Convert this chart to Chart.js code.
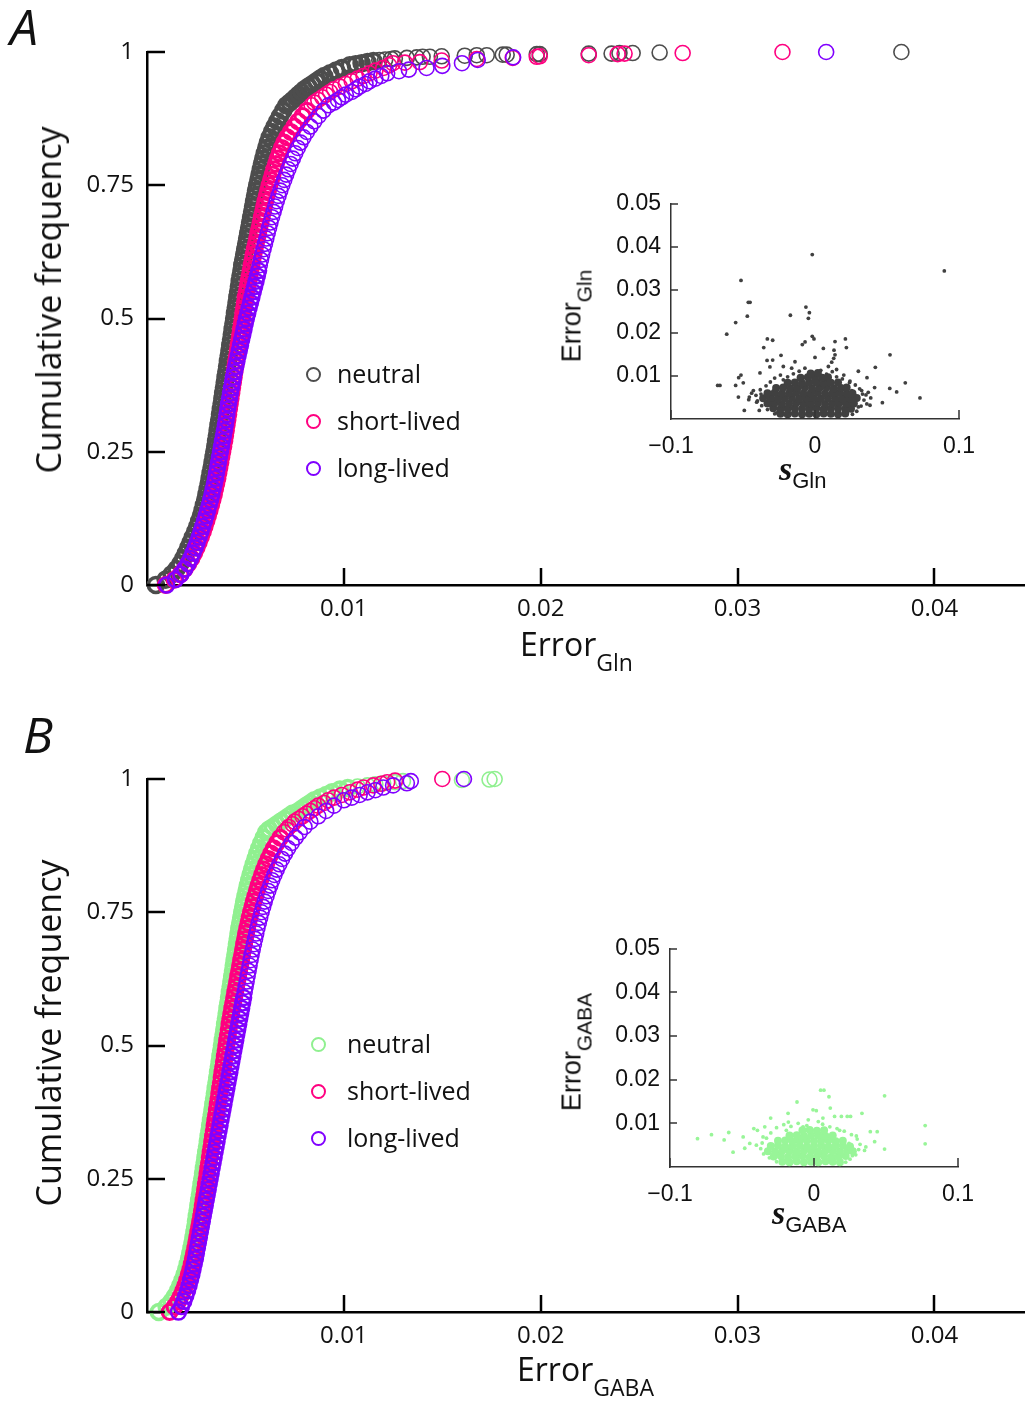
<!DOCTYPE html>
<html lang="en">
<head>
<meta charset="UTF-8">
<title>Cumulative error distributions</title>
<script src="https://cdn.jsdelivr.net/npm/chart.js"></script>
<style>
    html, body { margin: 0; padding: 0; background: #fff; overflow: hidden; }
    #wrap { position: relative; width: 1025px; height: 1402px; overflow: hidden; }
    canvas { position: absolute; }
    .t { position: absolute; white-space: nowrap; line-height: 1; color: #111; font-family: "Open Sans", sans-serif; }
    .rot { transform: translate(-50%, -50%) rotate(-90deg); }
    .sans { font-family: "Liberation Sans", Arial, sans-serif; }
    .sym { font-family: "Liberation Serif", serif; font-style: italic; font-weight: bold; }
    .lg { position: absolute; font-family: "Open Sans", sans-serif; font-size: 25px; line-height: 1; color: #111; white-space: nowrap; }
    .lg i { position: absolute; width: 11px; height: 11px; border: 2px solid; border-radius: 50%; }
</style>
</head>
<body>
<div id="wrap">
    <canvas id="mainA" width="1025" height="675" style="left:0;top:0"></canvas>
    <canvas id="insetA" width="430" height="300" style="left:550px;top:180px"></canvas>
    <canvas id="mainB" width="1025" height="675" style="left:0;top:727px"></canvas>
    <canvas id="insetB" width="430" height="300" style="left:550px;top:925px"></canvas>

    <div class="t" style="left:10px;top:1px;font-size:50px;font-style:italic">A</div>
    <div class="t rot" style="left:48px;top:300px;font-size:34px">Cumulative frequency</div>
    <div class="t" style="left:520px;top:628px;font-size:32px">Error<span style="font-size:23px;position:relative;top:15px">Gln</span></div>
    <div class="t sans rot" style="left:572px;top:316px;font-size:27px">Error<span style="font-size:21px;position:relative;top:11px">Gln</span></div>
    <div class="t" style="left:779px;top:452px"><span class="sym" style="font-size:34px">s</span><span class="sans" style="font-size:22px;position:relative;top:8px">Gln</span></div>

    <div class="t" style="left:23px;top:709px;font-size:50px;font-style:italic">B</div>
    <div class="t rot" style="left:48px;top:1033px;font-size:34px">Cumulative frequency</div>
    <div class="t" style="left:517px;top:1353px;font-size:32px">Error<span style="font-size:23px;position:relative;top:15px">GABA</span></div>
    <div class="t sans rot" style="left:572px;top:1052px;font-size:27px">Error<span style="font-size:21px;position:relative;top:11px">GABA</span></div>
    <div class="t" style="left:772px;top:1196px"><span class="sym" style="font-size:34px">s</span><span class="sans" style="font-size:22px;position:relative;top:8px">GABA</span></div>

    <div id="legA"></div>
    <div id="legB"></div>
</div>

<script>
const cumLevels = [
    0, 0.01, 0.02, 0.03, 0.04, 0.05, 0.06, 0.07, 0.08, 0.09,
    0.10, 0.11, 0.12, 0.13, 0.14, 0.15, 0.16, 0.17, 0.18, 0.19,
    0.20, 0.21, 0.22, 0.23, 0.24, 0.25, 0.26, 0.27, 0.28, 0.29,
    0.30, 0.31, 0.32, 0.33, 0.34, 0.35, 0.36, 0.37, 0.38, 0.39,
    0.40, 0.41, 0.42, 0.43, 0.44, 0.45, 0.46, 0.47, 0.48, 0.49,
    0.50, 0.51, 0.52, 0.53, 0.54, 0.55, 0.56, 0.57, 0.58, 0.59,
    0.60, 0.61, 0.62, 0.63, 0.64, 0.65, 0.66, 0.67, 0.68, 0.69,
    0.70, 0.71, 0.72, 0.73, 0.74, 0.75, 0.76, 0.77, 0.78, 0.79,
    0.80, 0.81, 0.82, 0.83, 0.84, 0.85, 0.86, 0.87, 0.88, 0.89, 0.90
];

// panel A, Error_Gln at each level
const glnNeutral = [
    .00045,.00095,.00125,.00150,.00170,.00185,.00198,.00210,.00222,.00233,
    .00245,.00256,.00265,.00274,.00282,.00289,.00296,.00302,.00308,.00313,
    .00318,.00323,.00328,.00333,.00338,.00342,.00347,.00351,.00355,.00359,
    .00363,.00367,.00371,.00375,.00379,.00383,.00387,.00391,.00395,.00399,
    .00403,.00407,.00411,.00415,.00419,.00423,.00427,.00431,.00435,.00439,
    .00443,.00447,.00451,.00455,.00459,.00463,.00467,.00471,.00475,.00480,
    .00484,.00489,.00494,.00499,.00504,.00509,.00514,.00519,.00524,.00529,
    .00534,.00539,.00544,.00549,.00554,.00560,.00566,.00572,.00578,.00584,
    .00591,.00598,.00606,.00614,.00623,.00635,.00648,.00662,.00676,.00692,.00708
];
const glnShort = [
    .00095,.00140,.00170,.00192,.00210,.00226,.00240,.00252,.00263,.00274,
    .00284,.00293,.00302,.00310,.00318,.00326,.00333,.00340,.00346,.00352,
    .00358,.00363,.00368,.00373,.00378,.00383,.00388,.00393,.00397,.00401,
    .00405,.00409,.00413,.00417,.00421,.00425,.00429,.00433,.00437,.00441,
    .00445,.00449,.00453,.00457,.00461,.00465,.00469,.00473,.00477,.00481,
    .00485,.00489,.00493,.00497,.00501,.00506,.00511,.00516,.00521,.00526,
    .00531,.00536,.00541,.00547,.00553,.00559,.00565,.00571,.00577,.00583,
    .00589,.00595,.00601,.00608,.00615,.00622,.00630,.00638,.00646,.00655,
    .00664,.00674,.00685,.00697,.00712,.00730,.00748,.00768,.00790,.00812,.00836
];
const glnLong = [
    .00100,.00145,.00172,.00192,.00208,.00222,.00234,.00245,.00255,.00265,
    .00274,.00283,.00292,.00300,.00308,.00316,.00323,.00330,.00336,.00342,
    .00348,.00353,.00358,.00363,.00368,.00373,.00378,.00383,.00388,.00393,
    .00398,.00402,.00406,.00410,.00414,.00419,.00424,.00429,.00434,.00439,
    .00445,.00451,.00457,.00463,.00469,.00475,.00481,.00487,.00493,.00499,
    .00505,.00512,.00519,.00526,.00533,.00540,.00547,.00554,.00561,.00567,
    .00573,.00579,.00585,.00592,.00599,.00606,.00613,.00620,.00627,.00635,
    .00643,.00651,.00659,.00668,.00677,.00687,.00697,.00707,.00718,.00729,
    .00741,.00753,.00766,.00780,.00795,.00812,.00830,.00850,.00872,.00896,.00922
];
// knee and tail of each curve: [Error, cumulative frequency]
const glnNeutralTop = [
    [.00725,.905],[.0074,.91],[.00755,.915],[.0077,.92],[.00785,.925],[.0080,.93],[.0082,.935],
    [.0084,.94],[.0086,.945],[.0088,.95],[.0090,.955],[.0093,.96],[.0096,.965],[.0099,.97],
    [.0103,.975],[.0106,.977],[.0109,.979],[.0112,.981],[.0115,.983],[.0118,.985],[.0121,.986],
    [.0124,.987],[.01259,.988],[.0132,.989],[.0137,.990],[.0140,.991],[.01437,.991],[.01497,.992],
    [.01614,.993],[.01675,.994],[.01726,.994],[.01807,.995],[.01827,.995],[.0198,.996],[.01995,.996],
    [.02244,.997],[.0236,.997],[.0240,.998],[.02467,.998],[.02604,.999],[.03832,1]
];
const glnShortTop = [
    [.0085,.905],[.0087,.91],[.0089,.915],[.0091,.92],[.0093,.925],[.0095,.93],[.0098,.935],
    [.0101,.94],[.0104,.945],[.0107,.95],[.0110,.955],[.0113,.96],[.0116,.965],[.0120,.97],
    [.0123,.975],[.01249,.979],[.0131,.980],[.01386,.981],[.01497,.984],[.01675,.987],[.01858,.989],
    [.0198,.991],[.01995,.992],[.02244,.994],[.02391,.996],[.02426,.997],[.02721,.998],[.03228,1]
];
const glnLongTop = [
    [.0095,.905],[.0097,.91],[.0099,.915],[.0101,.92],[.0104,.925],[.0106,.93],[.0108,.935],
    [.0111,.94],[.0113,.945],[.0116,.95],[.0119,.955],[.0122,.96],[.0128,.964],[.0133,.967],
    [.0142,.970],[.0150,.974],[.0160,.979],[.0168,.985],[.0186,.990],[.0345,1]
];

// panel B, Error_GABA at each level
const gabaNeutral = [
    .00060,.00100,.00125,.00143,.00158,.00170,.00181,.00191,.00200,.00207,
    .00214,.00220,.00226,.00231,.00236,.00241,.00245,.00249,.00253,.00257,
    .00261,.00265,.00269,.00273,.00277,.00281,.00285,.00289,.00293,.00297,
    .00301,.00305,.00309,.00313,.00317,.00321,.00325,.00329,.00333,.00337,
    .00341,.00345,.00349,.00353,.00357,.00361,.00365,.00369,.00373,.00377,
    .00381,.00385,.00389,.00393,.00397,.00401,.00405,.00409,.00413,.00417,
    .00421,.00425,.00429,.00433,.00437,.00441,.00445,.00449,.00453,.00457,
    .00461,.00465,.00469,.00474,.00479,.00484,.00489,.00494,.00500,.00506,
    .00512,.00519,.00526,.00534,.00542,.00551,.00560,.00570,.00581,.00593,.00606
];
const gabaShort = [
    .00115,.00140,.00158,.00172,.00184,.00195,.00204,.00212,.00220,.00227,
    .00233,.00239,.00245,.00250,.00255,.00260,.00265,.00270,.00275,.00279,
    .00283,.00287,.00291,.00295,.00299,.00303,.00307,.00311,.00315,.00319,
    .00323,.00327,.00331,.00335,.00339,.00343,.00347,.00351,.00355,.00359,
    .00363,.00367,.00371,.00375,.00379,.00383,.00387,.00391,.00395,.00399,
    .00403,.00407,.00411,.00415,.00419,.00423,.00428,.00433,.00438,.00443,
    .00448,.00453,.00458,.00463,.00468,.00473,.00478,.00483,.00488,.00493,
    .00498,.00503,.00509,.00515,.00521,.00528,.00535,.00542,.00550,.00558,
    .00566,.00575,.00584,.00594,.00605,.00617,.00630,.00644,.00660,.00677,.00695
];
const gabaLong = [
    .00160,.00175,.00187,.00197,.00206,.00214,.00221,.00228,.00234,.00240,
    .00246,.00251,.00256,.00261,.00266,.00271,.00276,.00281,.00286,.00291,
    .00296,.00301,.00306,.00311,.00316,.00321,.00326,.00331,.00336,.00341,
    .00346,.00351,.00356,.00361,.00366,.00371,.00376,.00381,.00386,.00391,
    .00396,.00401,.00406,.00411,.00416,.00421,.00426,.00431,.00436,.00441,
    .00446,.00451,.00456,.00461,.00466,.00471,.00476,.00481,.00486,.00491,
    .00496,.00501,.00506,.00511,.00516,.00521,.00526,.00531,.00537,.00543,
    .00549,.00555,.00561,.00568,.00575,.00582,.00590,.00598,.00607,.00616,
    .00626,.00636,.00647,.00659,.00672,.00686,.00701,.00717,.00735,.00755,.00776
];
const gabaNeutralTop = [
    [.0062,.905],[.0064,.91],[.0066,.915],[.0068,.92],[.0070,.925],[.0072,.93],[.0074,.935],
    [.0077,.94],[.0079,.945],[.0081,.95],[.0083,.955],[.0085,.96],[.0088,.965],[.0091,.97],
    [.0094,.975],[.0098,.98],[.0102,.983],[.0107,.986],[.0112,.988],[.0116,.990],[.0120,.992],
    [.0126,.994],[.0130,.996],[.0160,.998],[.0174,.999],[.01766,1]
];
const gabaShortTop = [
    [.0071,.905],[.0072,.91],[.0074,.915],[.0075,.92],[.0077,.925],[.0079,.93],[.0081,.935],
    [.0083,.94],[.0085,.945],[.0087,.95],[.0090,.955],[.0092,.96],[.0095,.965],[.0099,.97],
    [.0103,.975],[.0107,.98],[.0110,.984],[.0115,.988],[.0119,.991],[.0122,.994],[.0126,.997],[.0150,1]
];
const gabaLongTop = [
    [.0080,.91],[.0083,.92],[.0087,.93],[.0091,.94],[.0095,.95],[.0100,.96],[.0104,.965],
    [.0108,.97],[.0112,.975],[.0116,.979],[.0120,.984],[.0125,.988],[.0132,.992],[.0134,.996],[.0161,1]
];

// insets: [s, Error] pairs; "core" is the dense middle of each cloud
const glnCore = [
    [-.024,.0012],[-.019,.0011],[-.014,.0013],[-.009,.0011],[-.004,.0012],[.001,.0011],[.006,.0013],[.011,.0012],[.016,.0011],[.021,.0013],
    [-.029,.0025],[-.024,.0023],[-.019,.0024],[-.014,.0025],[-.009,.0023],[-.004,.0024],[.001,.0025],[.006,.0023],[.011,.0024],[.016,.0025],[.021,.0023],[.025,.0024],
    [-.033,.0036],[-.028,.0037],[-.023,.0035],[-.018,.0036],[-.013,.0037],[-.008,.0035],[-.003,.0036],[.002,.0037],[.007,.0035],[.012,.0036],[.017,.0037],[.022,.0035],[.027,.0036],
    [-.036,.0048],[-.031,.0049],[-.026,.0047],[-.021,.0048],[-.016,.0049],[-.011,.0047],[-.006,.0048],[-.001,.0049],[.004,.0047],[.009,.0048],[.014,.0049],[.019,.0047],[.024,.0048],[.029,.0049],
    [-.033,.0060],[-.028,.0061],[-.023,.0059],[-.018,.0060],[-.013,.0061],[-.008,.0059],[-.003,.0060],[.002,.0061],[.007,.0059],[.012,.0060],[.017,.0061],[.022,.0059],[.026,.0060],
    [-.027,.0072],[-.022,.0073],[-.017,.0071],[-.012,.0072],[-.007,.0073],[-.002,.0071],[.003,.0072],[.008,.0073],[.013,.0071],[.018,.0072],[.022,.0073],
    [-.019,.0084],[-.014,.0085],[-.009,.0083],[-.004,.0084],[.001,.0085],[.006,.0083],[.011,.0084],[.016,.0085],
    [-.010,.0096],[-.005,.0097],[0,.0095],[.005,.0096],[.009,.0097],
    [-.003,.0106],[.002,.0107]
];
const glnSpread = [
    [-.0019,.0382],[.0898,.0344],[-.0514,.0322],[-.0463,.0271],[-.0451,.0271],[-.0470,.0239],[-.0551,.0224],
    [-.0613,.0197],[-.0063,.0260],[-.0039,.0247],[-.0046,.0234],[-.0171,.0241],[-.0019,.0192],[-.0007,.0186],
    [-.0331,.0186],[-.0294,.0183],[-.0356,.0166],[-.0088,.0173],[-.0069,.0179],[.0139,.0180],[.0211,.0186],
    [.0218,.0166],[.0058,.0164],[.0132,.0160],[.0139,.0149],[.0130,.0141],[-.0236,.0148],[-.0294,.0137],
    [-.0333,.0136],[0,.0143],[.0521,.0149],[.0419,.0120],[.0301,.0111],[.0361,.0096],[.0627,.0084],
    [.0519,.0071],[.0729,.0049],[.0567,.0063],[.0468,.0038],[.0382,.0032],[.0414,.0073],[-.0676,.0078],
    [-.0660,.0078],[-.0551,.0078],[-.0514,.0102],[-.0530,.0096],[-.0498,.0084],[-.0532,.0051],[-.0491,.0020],
    [-.0456,.0051],[-.0382,.0107],[-.0313,.0121],[-.0220,.0122],[-.0139,.0133],[-.0162,.0118],[-.0375,.0058],
    [-.0428,.0066],[-.0405,.0039],[-.0387,.0020],[-.0266,.0014],[.0150,.0115],[.0093,.0122],[.0116,.0132],
    [.0243,.0088],[.0324,.0066],[.0255,.0066],[.0301,.0028],[.0243,.0035],[.0354,.0056],[.0387,.0049],
    [-.028,.0095],[-.024,.0102],[-.019,.0098],[-.015,.0105],[-.011,.0111],[-.007,.0118],[.004,.0113],
    [.008,.0104],[.012,.0110],[.015,.0098],[.019,.0093],[.024,.0085],[.028,.0079],[.031,.0070],
    [.033,.0058],[.034,.0044],[.032,.0030],[.029,.0018],[.026,.0011],[-.028,.0012],[-.033,.0022],
    [-.037,.0031],[-.040,.0042],[-.041,.0055],[-.038,.0068],[-.034,.0077],[-.031,.0086],[-.022,.0091],
    [.020,.0102],[-.044,.0060],[-.046,.0045],[.037,.0062],[.036,.0035]
];
const gabaCore = [
    [-.022,.0012],[-.017,.0011],[-.012,.0013],[-.007,.0011],[-.002,.0012],[.003,.0011],[.008,.0013],[.013,.0012],[.018,.0011],
    [-.028,.0024],[-.023,.0025],[-.018,.0023],[-.013,.0024],[-.008,.0025],[-.003,.0023],[.002,.0024],[.007,.0025],[.012,.0023],[.017,.0024],[.022,.0025],
    [-.032,.0036],[-.027,.0035],[-.022,.0037],[-.017,.0036],[-.012,.0035],[-.007,.0037],[-.002,.0036],[.003,.0035],[.008,.0037],[.013,.0036],[.018,.0035],[.023,.0037],[.027,.0036],
    [-.030,.0048],[-.025,.0049],[-.020,.0047],[-.015,.0048],[-.010,.0049],[-.005,.0047],[0,.0048],[.005,.0049],[.010,.0047],[.015,.0048],[.020,.0049],[.025,.0047],
    [-.025,.0060],[-.020,.0061],[-.015,.0059],[-.010,.0060],[-.005,.0061],[0,.0059],[.005,.0060],[.010,.0061],[.015,.0059],[.020,.0060],
    [-.017,.0072],[-.012,.0073],[-.007,.0071],[-.002,.0072],[.003,.0073],[.008,.0071],[.013,.0072],
    [-.008,.0084],[-.003,.0085],[.002,.0083],[.007,.0084]
];
const gabaSpread = [
    [-.0809,.0065],[-.0712,.0074],[-.0592,.0079],[-.0624,.0062],[-.0492,.0069],[-.0562,.0034],[-.0481,.0043],
    [-.0393,.0084],[-.0301,.0112],[-.0180,.0123],[-.0118,.0149],[-.0007,.0131],[.0016,.0129],[.0046,.0176],
    [.0069,.0176],[.0104,.0161],[.0113,.0135],[.0190,.0116],[.0231,.0116],[.0254,.0116],[.0333,.0123],
    [.0490,.0163],[.0772,.0095],[.0772,.0053],[.0439,.0081],[.0391,.0081],[.0421,.0058],[.0490,.0041],
    [.0351,.0038],[.0266,.0026],[.0143,.0116],[.0062,.0112],[-.0178,.0103],[-.0342,.0092],[-.0418,.0088],
    [-.0446,.0054],[-.0354,.0069],[-.0192,.0084],[-.0076,.0092],[.0178,.0084],[.0294,.0071],[.0243,.0054],
    [-.026,.0090],[-.021,.0097],[-.016,.0093],[-.011,.0100],[-.005,.0095],[.006,.0098],[.011,.0092],
    [.016,.0088],[.021,.0082],[.026,.0074],[.030,.0064],[.032,.0052],[.031,.0040],[.029,.0028],
    [.025,.0018],[.022,.0011],[-.026,.0012],[-.031,.0021],[-.035,.0030],[-.037,.0042],[-.036,.0055],
    [-.033,.0066],[-.030,.0078],[.036,.0046],[-.040,.0050],[-.004,.0108],[.003,.0104]
];

const errTicks = [0.01, 0.02, 0.03, 0.04];
const cumTicks = [0, 0.25, 0.5, 0.75, 1];
const sTicks = [-0.1, 0, 0.1];
const insetErrTicks = [0.01, 0.02, 0.03, 0.04, 0.05];
const groups = ['neutral', 'short-lived', 'long-lived'];

const GRAY = 'rgb(77,77,77)', PINK = 'rgb(255,0,128)', VIOLET = 'rgb(128,0,255)', GREEN = 'rgb(144,240,144)';

// MATLAB style ticks pointing into the plot
const inTicks = {
    id: 'inTicks',
    afterDraw(chart, args, o) {
        const ctx = chart.ctx, a = chart.chartArea;
        const xs = chart.scales.x, ys = chart.scales.y;
        ctx.save();
        ctx.strokeStyle = o.color;
        ctx.lineWidth = o.width;
        ctx.beginPath();
        xs.ticks.forEach(t => {
            const px = Math.round(xs.getPixelForValue(t.value));
            ctx.moveTo(px, a.bottom); ctx.lineTo(px, a.bottom - o.xLen);
        });
        ys.ticks.forEach(t => {
            const py = Math.round(ys.getPixelForValue(t.value));
            ctx.moveTo(a.left, py); ctx.lineTo(a.left + o.yLen, py);
        });
        ctx.stroke();
        ctx.restore();
    }
};

function curve(body, top) {
    const pts = body.map((x, i) => ({ x: x, y: cumLevels[i] }));
    return pts.concat(top.map(p => ({ x: p[0], y: p[1] })));
}

// rings are drawn heavier where the real curve is packed solid
function ring(label, data, color, order, heavyBelow, heavyW) {
    return {
        label: label, data: data, order: order, clip: false,
        pointStyle: 'circle', pointRadius: 7.5,
        pointBorderWidth: c => (c.raw && c.raw.y < heavyBelow) ? heavyW : 1.6,
        pointBorderColor: color, pointBackgroundColor: 'rgba(0,0,0,0)'
    };
}

// keep the plot edge where the axis range says, not where the labels want it
function noLabelPad(s) { s.paddingLeft = 0; s.paddingRight = 0; }

function mainChart(id, sets) {
    const tickFont = { family: 'Open Sans', size: 24 };
    return new Chart(document.getElementById(id), {
        type: 'scatter',
        data: { datasets: sets },
        options: {
            responsive: false,
            animation: false,
            events: [],
            layout: { autoPadding: false, padding: { top: 52, right: 0, left: 0, bottom: 0 } },
            plugins: {
                legend: { display: false },
                tooltip: { enabled: false },
                inTicks: { xLen: 17, yLen: 18, width: 2.5, color: '#000' }
            },
            scales: {
                x: {
                    type: 'linear', min: 0, max: 0.0446,
                    grid: { display: false, drawTicks: false },
                    border: { color: '#000', width: 2.5 },
                    afterBuildTicks: s => { s.ticks = errTicks.map(v => ({ value: v })); },
                    afterFit: s => { s.height = 90; noLabelPad(s); },
                    ticks: { color: '#111', font: tickFont, padding: 10, maxRotation: 0, callback: v => String(v) }
                },
                y: {
                    type: 'linear', min: 0, max: 1,
                    grid: { display: false, drawTicks: false },
                    border: { color: '#000', width: 2.5 },
                    afterBuildTicks: s => { s.ticks = cumTicks.map(v => ({ value: v })); },
                    afterFit: s => { s.width = 147; },
                    ticks: { color: '#111', font: tickFont, padding: 13, callback: v => String(v) }
                }
            }
        },
        plugins: [inTicks]
    });
}

function insetChart(id, core, spread, color, pad, yw, xh) {
    const tickFont = { family: 'Liberation Sans', size: 23 };
    const dots = (data, r) => ({
        data: data.map(p => ({ x: p[0], y: p[1] })), clip: false,
        pointStyle: 'circle', pointRadius: r, pointBorderWidth: 0,
        pointBackgroundColor: color, pointBorderColor: color
    });
    return new Chart(document.getElementById(id), {
        type: 'scatter',
        data: { datasets: [dots(core, 4), dots(spread, 1.9)] },
        options: {
            responsive: false,
            animation: false,
            events: [],
            layout: { autoPadding: false, padding: pad },
            plugins: {
                legend: { display: false },
                tooltip: { enabled: false },
                inTicks: { xLen: 9, yLen: 7, width: 1.5, color: '#333' }
            },
            scales: {
                x: {
                    type: 'linear', min: -0.1, max: 0.1,
                    grid: { display: false, drawTicks: false },
                    border: { color: '#333', width: 1.5 },
                    afterBuildTicks: s => { s.ticks = sTicks.map(v => ({ value: v })); },
                    afterFit: s => { s.height = xh; noLabelPad(s); },
                    ticks: { color: '#111', font: tickFont, padding: 14, maxRotation: 0,
                             callback: v => v < 0 ? '\u2212' + Math.abs(v) : String(v) }
                },
                y: {
                    type: 'linear', min: 0, max: 0.05,
                    grid: { display: false, drawTicks: false },
                    border: { color: '#333', width: 1.5 },
                    afterBuildTicks: s => { s.ticks = insetErrTicks.map(v => ({ value: v })); },
                    afterFit: s => { s.width = yw; },
                    ticks: { color: '#111', font: tickFont, padding: 10, callback: v => String(v) }
                }
            }
        },
        plugins: [inTicks]
    });
}

mainChart('mainA', [
    ring(groups[0], curve(glnNeutral, glnNeutralTop), GRAY, 3, 0.985, 3.6),
    ring(groups[1], curve(glnShort, glnShortTop), PINK, 2, 0.9, 3),
    ring(groups[2], curve(glnLong, glnLongTop), VIOLET, 1, 0.6, 2.4)
]);
mainChart('mainB', [
    ring(groups[0], curve(gabaNeutral, gabaNeutralTop), GREEN, 3, 0.985, 3.6),
    ring(groups[1], curve(gabaShort, gabaShortTop), PINK, 2, 0.9, 3),
    ring(groups[2], curve(gabaLong, gabaLongTop), VIOLET, 1, 0.6, 2.4)
]);
insetChart('insetA', glnCore, glnSpread, 'rgb(64,64,64)', { top: 19, right: 21, left: 0, bottom: 0 }, 121, 61);
insetChart('insetB', gabaCore, gabaSpread, 'rgb(152,245,152)', { top: 20, right: 22, left: 0, bottom: 0 }, 120, 58);

// legends
function legend(el, colors, cx, cy0, tx) {
    const wrap = document.getElementById(el);
    groups.forEach((g, i) => {
        const cy = cy0 + i * 47;
        const d = document.createElement('div');
        d.className = 'lg';
        d.style.left = tx + 'px';
        d.style.top = (cy - 14) + 'px';
        d.textContent = g;
        const m = document.createElement('i');
        m.style.borderColor = colors[i];
        m.style.left = (cx - tx - 7.5) + 'px';
        m.style.top = '6px';
        d.appendChild(m);
        wrap.appendChild(d);
    });
}
legend('legA', [GRAY, PINK, VIOLET], 313, 375, 337);
legend('legB', [GREEN, PINK, VIOLET], 318, 1045, 347);
</script>
</body>
</html>
